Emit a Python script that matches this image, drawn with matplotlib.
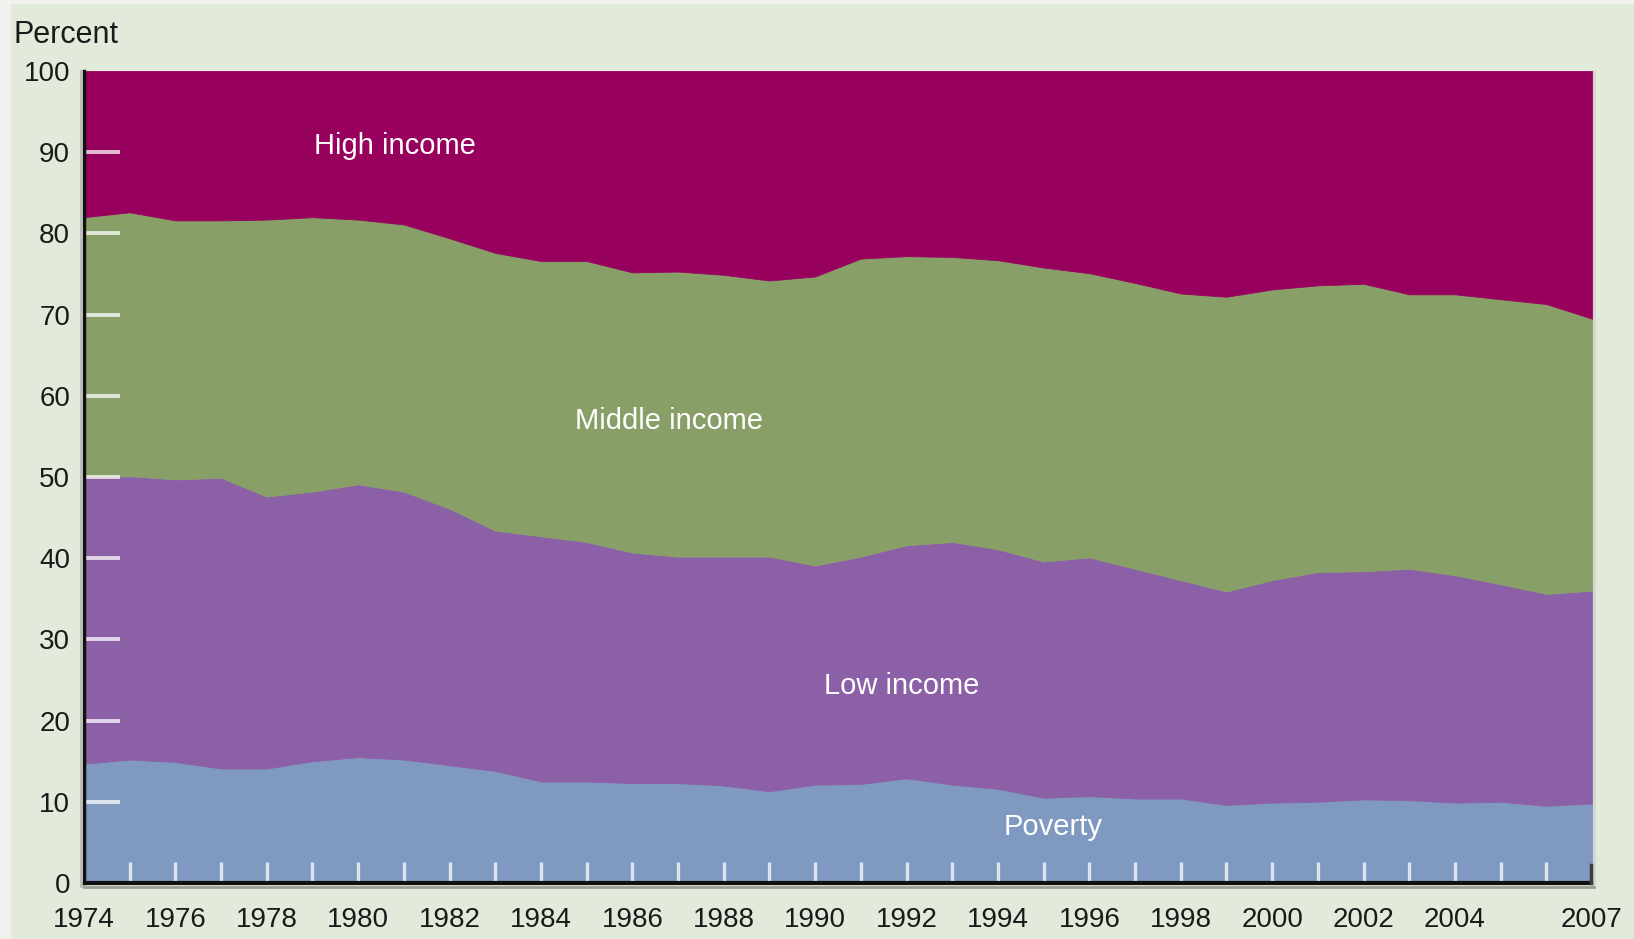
import matplotlib
matplotlib.use("Agg")
import matplotlib.pyplot as plt
from matplotlib.patches import Rectangle
from matplotlib.lines import Line2D

plt.rcParams['font.family'] = ['Liberation Sans', 'DejaVu Sans']

years = list(range(1974, 2008))
categories = ["Poverty", "Low income", "Middle income", "High income"]
poverty = [14.7, 15.2, 14.9, 14.1, 14.1, 15.0, 15.5, 15.2, 14.5, 13.8, 12.5, 12.5, 12.3, 12.3, 12.0, 11.3, 12.1,
           12.2, 12.9, 12.1, 11.6, 10.5, 10.7, 10.4, 10.4, 9.6, 9.9, 10.0, 10.3, 10.2, 9.9, 10.0, 9.5, 9.8]
low_income = [35.3, 34.9, 34.8, 35.8, 33.5, 33.2, 33.6, 33.0, 31.6, 29.6, 30.2, 29.5, 28.4, 27.9, 28.2, 28.9, 27.0,
              28.0, 28.7, 29.9, 29.5, 29.1, 29.4, 28.3, 26.9, 26.3, 27.4, 28.3, 28.1, 28.5, 28.0, 26.8, 26.1, 26.2]
middle_income = [32.0, 32.5, 31.9, 31.7, 34.1, 33.8, 32.6, 32.9, 33.3, 34.2, 33.9, 34.6, 34.5, 35.1, 34.7, 34.0, 35.6,
                 36.7, 35.6, 35.1, 35.6, 36.2, 35.0, 35.2, 35.3, 36.3, 35.8, 35.3, 35.4, 33.8, 34.6, 35.1, 35.7, 33.5]
high_income = [100 - p - l - m for p, l, m in zip(poverty, low_income, middle_income)]

ytick_vals = list(range(0, 101, 10))
xtick_labels = [1974, 1976, 1978, 1980, 1982, 1984, 1986, 1988, 1990, 1992, 1994, 1996, 1998, 2000, 2002, 2004, 2007]

colors = ["#8099c0", "#8b60a6", "#88a067", "#98005e"]

W, H = 1634, 939
fig = plt.figure(figsize=(W / 100, H / 100), dpi=100)
fig.patch.set_facecolor("#f1f1ed")
fig.patches.append(Rectangle((11 / W, 0), 1, 1 - 4 / H, transform=fig.transFigure,
                             facecolor="#e2eadb", edgecolor="none", zorder=-10))

left, right, top, bottom = 84, 1592, 71, 883
ax = fig.add_axes([left / W, 1 - bottom / H, (right - left) / W, (bottom - top) / H])

ax.stackplot(years, poverty, low_income, middle_income, high_income, colors=colors,
             edgecolor="face", linewidth=0.6)

ax.set_xlim(1974, 2007)
ax.set_ylim(0, 100)

ax.xaxis.remove_overlapping_locs = False
ax.yaxis.remove_overlapping_locs = False
ax.set_yticks(ytick_vals)
ax.set_yticks(ytick_vals[1:-1], minor=True)
ax.set_xticks(xtick_labels)
ax.set_xticks(years[1:-1], minor=True)
ax.tick_params(axis="both", which="major", length=0, labelsize=20, labelcolor="#1a1a1a")
ax.tick_params(axis="y", which="major", pad=10)
ax.tick_params(axis="x", which="major", pad=17)
ax.tick_params(axis="y", which="minor", direction="in", length=26, width=2.8, color=(1, 1, 1, 0.75))
ax.tick_params(axis="x", which="minor", direction="in", length=15, width=2.4, color=(1, 1, 1, 0.75))

for s in ["top", "right"]:
    ax.spines[s].set_visible(False)
ax.spines["left"].set_linewidth(2.5)
ax.spines["bottom"].set_linewidth(3)
ax.spines["left"].set_color("#111111")
ax.spines["bottom"].set_color("#111111")
ax.spines["left"].set_zorder(5)
ax.spines["bottom"].set_zorder(5)

# subtle shadow of the frame
fig.add_artist(Line2D([(left - 3) / W, (left - 3) / W], [1 - (bottom + 3) / H, 1 - top / H],
                      transform=fig.transFigure, color="#b9bdb3", linewidth=2))
fig.add_artist(Line2D([left / W, (right + 2) / W], [1 - (bottom + 4) / H, 1 - (bottom + 4) / H],
                      transform=fig.transFigure, color="#9a9e95", linewidth=2))
fig.add_artist(Line2D([(right + 2) / W, (right + 2) / W], [1 - bottom / H, 1 - top / H],
                      transform=fig.transFigure, color="#d3d6cc", linewidth=2))
# dark end tick at the right edge
fig.add_artist(Line2D([(right - 1) / W, (right - 1) / W], [1 - bottom / H, 1 - (bottom - 18) / H],
                      transform=fig.transFigure, color="#3a3d3a", linewidth=2.5))

label_kw = dict(color="white", fontsize=21, ha="center", va="center")
ax.text(1980.8, 90.8, "High income", **label_kw)
ax.text(1986.8, 56.9, "Middle income", **label_kw)
ax.text(1991.9, 24.3, "Low income", **label_kw)
ax.text(1995.2, 6.9, "Poverty", **label_kw)

fig.text(14 / W, 1 - 35 / H, "Percent", fontsize=22, color="#1a1a1a", ha="left", va="center")

fig.savefig("out.png", dpi=100, facecolor=fig.get_facecolor())
